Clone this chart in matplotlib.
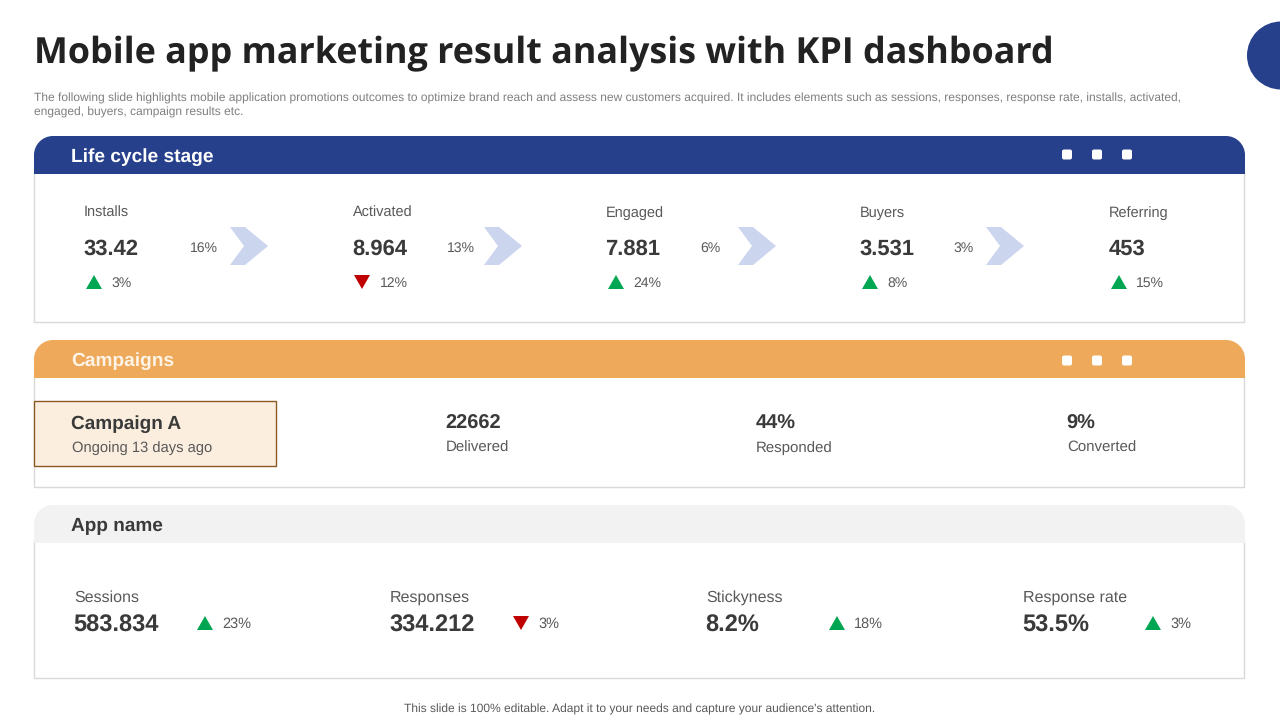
import matplotlib
matplotlib.use("Agg")
import matplotlib.pyplot as plt
from matplotlib.patches import PathPatch, Rectangle, Circle, Polygon, FancyBboxPatch
from matplotlib.path import Path

plt.rcParams['font.family'] = ['Liberation Sans', 'DejaVu Sans']
plt.rcParams['text.hinting'] = 'no_hinting'

TITLE = "Mobile app marketing result analysis with KPI dashboard"
SUB1 = "The following slide highlights mobile application promotions outcomes to optimize brand reach and assess new customers acquired. It includes elements such as sessions, responses, response rate, installs, activated,"
SUB2 = "engaged, buyers, campaign results etc."
FOOT = "This slide is 100% editable. Adapt it to your needs and capture your audience's attention."

stage_names = ["Installs", "Activated", "Engaged", "Buyers", "Referring"]
stage_values = ["33.42", "8.964", "7.881", "3.531", "453"]
stage_conv = ["16%", "13%", "6%", "3%"]
stage_delta = ["3%", "12%", "24%", "8%", "15%"]
stage_up = [True, False, True, True, True]

camp_values = ["22662", "44%", "9%"]
camp_labels = ["Delivered", "Responded", "Converted"]

app_names = ["Sessions", "Responses", "Stickyness", "Response rate"]
app_values = ["583.834", "334.212", "8.2%", "53.5%"]
app_delta = ["23%", "3%", "18%", "3%"]
app_up = [True, False, True, True]

stage_x = [84, 353, 606, 860, 1109]
conv_x = [203.5, 460.5, 710, 964]
chev_x = [230, 484, 738, 986]
camp_x = [446, 756, 1067]
app_x = [74, 390, 706, 1023]
app_tri_x = [205, 521, 837, 1153]

BLUE = "#27408B"
ORANGE = "#EEA95A"
GREY = "#F2F2F2"
DARK = "#3A3A3A"
MID = "#595959"
BORDER = "#D9D9D9"
GREEN = "#00A651"
RED = "#C00000"

fig = plt.figure(figsize=(12.8, 7.2), dpi=100, facecolor="white")
ax = fig.add_axes([0, 0, 1, 1])
ax.set_xlim(0, 1280)
ax.set_ylim(720, 0)
ax.axis("off")


def px(n):
    return n * 72 / 100


def T(x, y, s, size, color=DARK, weight="normal", ha="left", va="baseline", **kw):
    dx = -0.6 if (ha == "left" and weight == "bold") else 0
    return ax.text(x + dx, y, s, fontsize=px(size), color=color, fontweight=weight, ha=ha, va=va, **kw)


def header(x0, x1, y0, y1, r, color):
    k = 0.45 * r
    verts = [(x0, y1), (x0, y0 + r), (x0, y0 + k), (x0 + k, y0), (x0 + r, y0),
             (x1 - r, y0), (x1 - k, y0), (x1, y0 + k), (x1, y0 + r), (x1, y1), (x0, y1)]
    codes = [Path.MOVETO, Path.LINETO, Path.CURVE4, Path.CURVE4, Path.CURVE4,
             Path.LINETO, Path.CURVE4, Path.CURVE4, Path.CURVE4, Path.LINETO, Path.CLOSEPOLY]
    ax.add_patch(PathPatch(Path(verts, codes), facecolor=color, edgecolor="none", zorder=3))


def panel(y0, y1, y2, color):
    ax.add_patch(Rectangle((34, y1 - 3), 1210, y2 - y1 + 3, facecolor="white", edgecolor=BORDER, lw=1, zorder=1))
    header(34, 1245, y0, y1, 19, color)


def dots(y):
    for x in (1067, 1097, 1127):
        ax.add_patch(FancyBboxPatch((x - 3.5, y - 3.5), 7, 7, boxstyle="round,pad=1.5,rounding_size=2",
                                    facecolor="white", edgecolor="none", zorder=4))


def tri(x, y, up):
    h, w = 7, 8
    pts = [(x - w, y + h), (x + w, y + h), (x, y - h)] if up else [(x - w, y - h), (x + w, y - h), (x, y + h)]
    ax.add_patch(Polygon(pts, closed=True, facecolor=GREEN if up else RED, edgecolor="none", zorder=4))


def chevron(x, y):
    pts = [(x, y - 19), (x + 15, y - 19), (x + 38, y), (x + 15, y + 19), (x, y + 19), (x + 14, y)]
    ax.add_patch(Polygon(pts, closed=True, facecolor="#CBD5EE", edgecolor="none", zorder=4))


# Title block
ax.text(34, 63.5, TITLE, fontsize=px(35.87), color="#222222", family=['Open Sans', 'DejaVu Sans'],
        fontweight="bold", ha="left", va="baseline")
ax.add_patch(Circle((1281, 55.5), 34, facecolor=BLUE, edgecolor="none", clip_on=True))
T(34, 101.3, SUB1, 12.02, color="#7F7F7F")
T(34, 115.3, SUB2, 12.02, color="#7F7F7F")

# Life cycle stage
panel(136, 174, 322, BLUE)
T(72, 162, "Life cycle stage", 19.2, color="white", weight="bold")
dots(154.5)
for i in range(5):
    T(stage_x[i], 217.2, stage_names[i], 14.5, color=MID)
    T(stage_x[i], 255.2, stage_values[i], 22, weight="bold")
    tri(stage_x[i] + (10 if stage_up[i] else 9), 282, stage_up[i])
    T(stage_x[i] + 27, 286.6, stage_delta[i], 14, color=MID)
for i in range(4):
    T(conv_x[i], 252, stage_conv[i], 14, color=MID, ha="center")
    chevron(chev_x[i], 246)

# Campaigns
panel(340, 378, 487, ORANGE)
T(72, 366, "Campaigns", 19.2, color="#FDF3E6", weight="bold")
dots(360.5)
ax.add_patch(Rectangle((34, 401), 242, 64.5, facecolor="#FBEEDF", edgecolor="#8B5A24", lw=1, zorder=3))
T(72, 429, "Campaign A", 19, weight="bold", zorder=5)
T(72, 452, "Ongoing 13 days ago", 14.8, color=MID, zorder=5)
for x, v, l in zip(camp_x, camp_values, camp_labels):
    T(x, 429, v, 20, weight="bold")
    T(x, 452, l, 15, color=MID)

# App name
panel(505, 543, 678, GREY)
T(72, 531, "App name", 19, weight="bold")
for i in range(4):
    T(app_x[i], 602, app_names[i], 16, color=MID)
    T(app_x[i], 631.4, app_values[i], 23.6, weight="bold")
    tri(app_tri_x[i], 623, app_up[i])
    T(app_tri_x[i] + 17, 628, app_delta[i], 14.5, color=MID)

T(640, 713, FOOT, 12.05, color="#595959", ha="center")

fig.savefig("out.png", dpi=100, facecolor="white")
